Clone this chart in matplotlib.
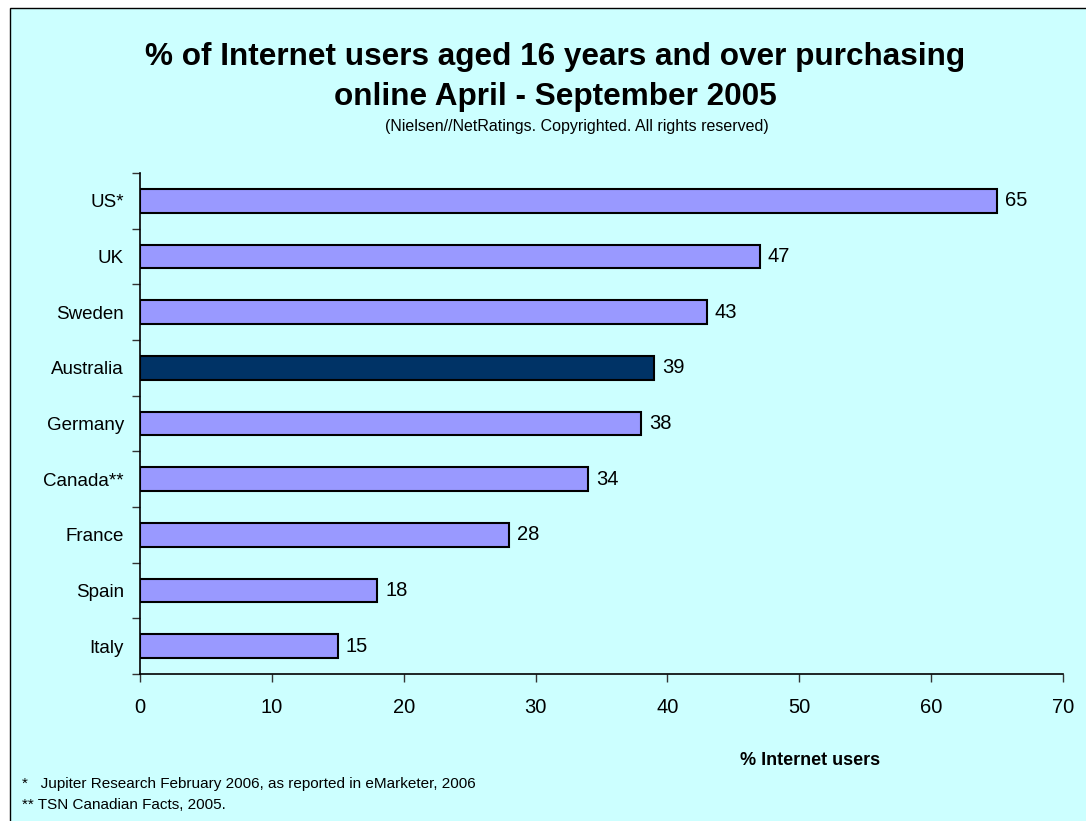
import matplotlib
matplotlib.use("Agg")
import matplotlib.pyplot as plt
from matplotlib.patches import Rectangle
import numpy as np

# Online purchasing share of internet users, by country (Apr - Sep 2005)
countries = ["US*", "UK", "Sweden", "Australia", "Germany", "Canada**", "France", "Spain", "Italy"]
values = [65, 47, 43, 39, 38, 34, 28, 18, 15]
highlight = "Australia"
xticks = [0, 10, 20, 30, 40, 50, 60, 70]

BG = "#CCFFFF"
BAR = "#9999FF"
BAR_HI = "#003366"

plt.rcParams["font.family"] = ["Liberation Sans", "DejaVu Sans"]

fig = plt.figure(figsize=(10.86, 8.21), dpi=100)
fig.patch.set_facecolor("white")

# chart area box (left and top edges visible)
W, H = 1086, 821
frame = Rectangle((10 / W, -0.01), 1.0, 1 - 8 / H + 0.01, transform=fig.transFigure,
                  facecolor=BG, edgecolor="black", linewidth=1.0, zorder=-10)
fig.patches.append(frame)

ax = fig.add_axes([140 / W, 1 - 674 / H, (1063 - 140) / W, (674 - 173) / H])
ax.set_facecolor("none")

ypos = np.arange(len(countries))
colors = [BAR_HI if c == highlight else BAR for c in countries]
ax.barh(ypos, values, height=0.43, color=colors, edgecolor="black", linewidth=1.5, zorder=3)

for y, v in zip(ypos, values):
    ax.text(v + 0.6, y, str(v), va="center", ha="left", fontsize=14.5, color="black")

ax.set_xlim(0, 70)
ax.set_ylim(len(countries) - 0.5, -0.5)
ax.set_xticks(xticks)
ax.set_xticklabels([str(t) for t in xticks], fontsize=14.5)
ax.set_yticks(ypos)
ax.set_yticklabels(countries, fontsize=13.5)
ax.set_yticks(np.arange(-0.5, len(countries)), minor=True)
ax.tick_params(axis="y", which="major", length=0, pad=11.5)
ax.tick_params(axis="y", which="minor", length=6, width=1, color="#333333")
ax.tick_params(axis="x", length=6, width=1, color="#333333", pad=11)

for s in ["top", "right"]:
    ax.spines[s].set_visible(False)
for s in ["left", "bottom"]:
    ax.spines[s].set_linewidth(1.2)

fig.text(555 / W, 1 - 57 / H, "% of Internet users aged 16 years and over purchasing",
         ha="center", va="center", fontsize=22.7, fontweight="bold")
fig.text(555 / W, 1 - 97 / H, "online April - September 2005",
         ha="center", va="center", fontsize=22.7, fontweight="bold")
fig.text(577 / W, 1 - 127 / H, "(Nielsen//NetRatings. Copyrighted. All rights reserved)",
         ha="center", va="center", fontsize=11.5)

fig.text(810 / W, 1 - 760 / H, "% Internet users", ha="center", va="center",
         fontsize=13, fontweight="bold")

fig.text(22 / W, 1 - 784 / H, "*   Jupiter Research February 2006, as reported in eMarketer, 2006",
         ha="left", va="center", fontsize=11)
fig.text(22 / W, 1 - 805 / H, "** TSN Canadian Facts, 2005.",
         ha="left", va="center", fontsize=11)

fig.savefig("out.png", dpi=100, facecolor=fig.get_facecolor())
